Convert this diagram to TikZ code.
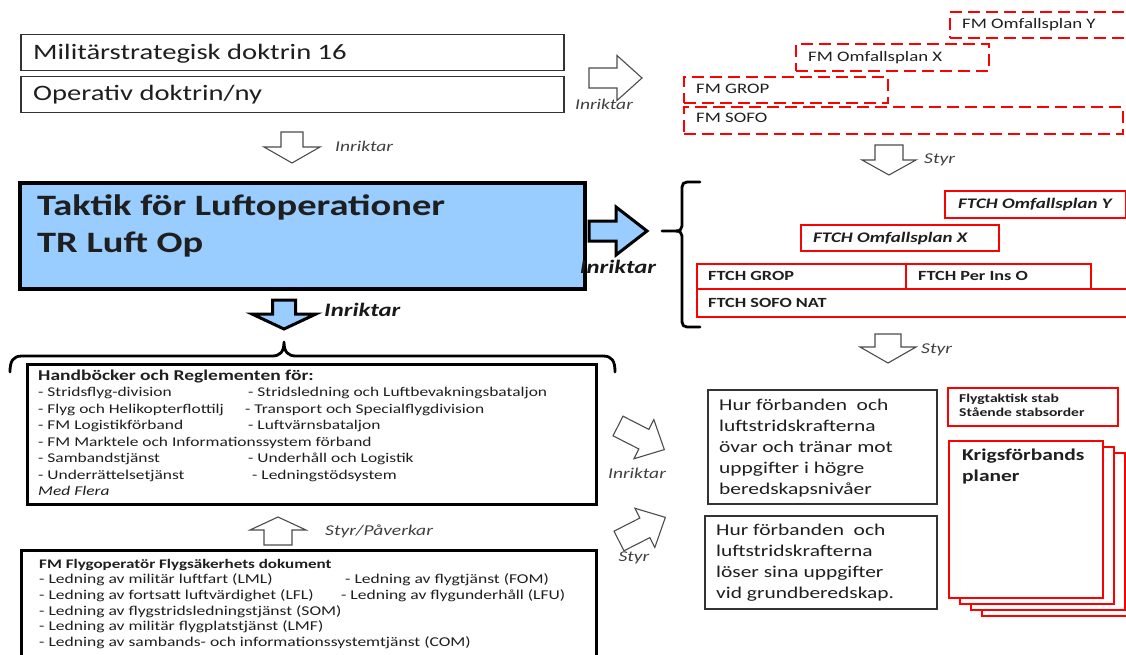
\documentclass[tikz,border=0pt]{standalone}
\usepackage{fontspec}
\setmainfont{Carlito}[FakeStretch=1.3]
\definecolor{skyfill}{RGB}{153,204,255}
\definecolor{planred}{RGB}{255,0,0}
\newcommand\fsz[2]{\fontsize{#1}{#2}\selectfont}
\tikzset{
  pics/blockarrow/.style n args={4}{code={%
    \path[pic actions] (0,-#2) -- ({#1-#4},-#2) -- ({#1-#4},-#3) -- (#1,0)
      -- ({#1-#4},#3) -- ({#1-#4},#2) -- (0,#2) -- cycle;}},
}
\begin{document}
\begin{tikzpicture}[x=1pt,y=-1pt,
  docbox/.style={draw=black!80, line width=1.5pt, fill=white, inner sep=0pt, anchor=north west},
  heavybox/.style={draw=black, line width=2.6pt, fill=white, inner sep=0pt, anchor=north west},
  tacticbox/.style={draw=black, line width=4pt, fill=skyfill, inner sep=0pt, anchor=north west},
  planbox/.style={draw=planred, line width=2.2pt, fill=white, inner sep=0pt, anchor=north west},
  draftbox/.style={draw=planred, line width=2.4pt, dash pattern=on 12pt off 6pt, inner sep=0pt, anchor=north west},
  hollowarrow/.style={draw=black!70, line width=1.1pt, fill=white, line join=miter},
  bluearrow/.style={draw=black, line width=3pt, fill=skyfill, line join=miter},
  bracket/.style={draw=black, line width=2.8pt, line cap=round, line join=round},
  note/.style={font=\itshape\fsz{15}{18}, text=black!75, inner sep=0pt},
  bignote/.style={font=\bfseries\itshape\fsz{19}{22}, text=black!90, inner sep=0pt},
  txt/.style={inner sep=0pt, text=black!88, anchor=base west},
]
\useasboundingbox (0,0) rectangle (1126,655);
\clip (0,0) rectangle (1126,655);

% ---------- doctrine boxes ----------
\node[docbox, minimum width=543pt, minimum height=36pt] (msd) at (20,34) {};
\node[txt, font=\fsz{22}{26}] (msdt) at (33,60) {Militärstrategisk doktrin 16};
\node[docbox, minimum width=543pt, minimum height=36pt] (opd) at (20,76) {};
\node[txt, font=\fsz{22}{26}] (opdt) at (33,101) {Operativ doktrin/ny};

\pic[hollowarrow] at (589,78) {blockarrow={53}{10}{22.5}{25}};
\node[note, anchor=center] (inr1) at (604,104) {Inriktar};
\pic[hollowarrow, rotate=-90] at (292,132) {blockarrow={31}{11}{28}{16}};
\node[note, anchor=west] (inr2) at (335,146) {Inriktar};

% ---------- tactics box ----------
\node[tacticbox, minimum width=565pt, minimum height=106pt] (tlo) at (18,181) {};
\node[txt, font=\bfseries\fsz{29.6}{37}] (tlo1) at (37,215) {Taktik för Luftoperationer};
\node[txt, font=\bfseries\fsz{29.6}{37}] (tlo2) at (37,252) {TR Luft Op};

\pic[bluearrow] at (589,231) {blockarrow={58}{10}{24}{31}};
\node[bignote, anchor=center] (inr3) at (618,267) {Inriktar};
\pic[bluearrow, rotate=-90] at (284,300) {blockarrow={29}{11.5}{32}{15}};
\node[bignote, anchor=west] (inr4) at (324,310) {Inriktar};

% ---------- lower brace and handbook box ----------
\draw[bracket] (10,372) .. controls (10,361) and (13,356) .. (22,356) -- (272,356)
  .. controls (280,356) and (284,352) .. (284,342)
  .. controls (284,352) and (288,356) .. (296,356) -- (603,356)
  .. controls (612,356) and (615,361) .. (615,372);

\node[heavybox, minimum width=569pt, minimum height=140pt] (hbk) at (26,363) {};
\node[txt, font=\fsz{13.4}{16.5}] (hbkt) at (38,380) {\begin{tabular}[t]{@{}l@{}}
{\bfseries\fsz{15}{16.5}Handböcker och Reglementen för:}\\
\makebox[210pt][l]{- Stridsflyg-division}- Stridsledning och Luftbevakningsbataljon\\
\makebox[207pt][l]{- Flyg och Helikopterflottilj}- Transport och Specialflygdivision\\
\makebox[210pt][l]{- FM Logistikförband}- Luftvärnsbataljon\\
- FM Marktele och Informationssystem förband\\
\makebox[210pt][l]{- Sambandstjänst}- Underhåll och Logistik\\
\makebox[214pt][l]{- Underrättelsetjänst}- Ledningstödsystem\\
\textit{Med Flera}
\end{tabular}};

\pic[hollowarrow, rotate=90] at (278,545) {blockarrow={28}{14}{28}{13}};
\node[note, anchor=west] (styr1) at (325,531) {Styr/Påverkar};

\node[heavybox, minimum width=575pt, minimum height=130pt] (fso) at (20,549) {};
\node[txt, font=\fsz{13.5}{15.7}] (fsot) at (39,568) {\begin{tabular}[t]{@{}l@{}}
{\bfseries\fsz{13.1}{15.7}FM Flygoperatör Flygsäkerhets dokument}\\
\makebox[306pt][l]{- Ledning av militär luftfart (LML)}- Ledning av flygtjänst (FOM)\\
\makebox[302pt][l]{- Ledning av fortsatt luftvärdighet (LFL)}- Ledning av flygunderhåll (LFU)\\
- Ledning av flygstridsledningstjänst (SOM)\\
- Ledning av militär flygplatstjänst (LMF)\\
- Ledning av sambands- och informationssystemtjänst (COM)
\end{tabular}};

% ---------- draft plans (dashed) ----------
\node[draftbox, minimum width=439pt, minimum height=27pt] (dsofo) at (683,106) {};
\node[draftbox, minimum width=204pt, minimum height=26pt] (dgrop) at (683,76) {};
\node[draftbox, minimum width=193pt, minimum height=27pt] (dx) at (795,43) {};
\node[draftbox, minimum width=200pt, minimum height=26pt] (dy) at (949,11) {};
\node[txt, font=\fsz{14.5}{17}] (dsofot) at (696,123) {FM SOFO};
\node[txt, font=\fsz{14.5}{17}] (dgropt) at (696,94) {FM GROP};
\node[txt, font=\fsz{14.5}{17}] (dxt) at (808,62) {FM Omfallsplan X};
\node[txt, font=\fsz{14.5}{17}] (dyt) at (962,29) {FM Omfallsplan Y};

\pic[hollowarrow, rotate=-90] at (889,145) {blockarrow={30}{14}{27}{15}};
\node[note, anchor=west] (styr2) at (924,160) {Styr};

% ---------- tactical plans ----------
\draw[bracket] (700,182) -- (687,182) .. controls (684,182) and (682,184) .. (682,187)
  -- (682,226) .. controls (682,229) and (680,231) .. (676,231) -- (662,231);
\draw[bracket] (676,231) .. controls (680,231) and (682,233) .. (682,236)
  -- (682,322) .. controls (682,325) and (684,327) .. (687,327) -- (700,327);

\node[planbox, minimum width=450pt, minimum height=28pt] (fsofo) at (696,288) {};
\node[planbox, minimum width=209pt, minimum height=25pt] (fgrop) at (696,263) {};
\node[planbox, minimum width=185pt, minimum height=25pt] (fper) at (905,263) {};
\node[planbox, minimum width=198pt, minimum height=26pt] (fx) at (800,224) {};
\node[planbox, minimum width=181pt, minimum height=27pt] (fy) at (944,190) {};
\node[txt, font=\bfseries\fsz{14}{17}] (fsofot) at (708,307) {FTCH SOFO NAT};
\node[txt, font=\bfseries\fsz{14}{17}] (fgropt) at (708,280) {FTCH GROP};
\node[txt, font=\bfseries\fsz{14}{17}] (fpert) at (918,280) {FTCH Per Ins O};
\node[txt, font=\bfseries\itshape\fsz{14.6}{17}] (fxt) at (813,242) {FTCH Omfallsplan X};
\node[txt, font=\bfseries\itshape\fsz{14.6}{17}] (fyt) at (958,208) {FTCH Omfallsplan Y};

\pic[hollowarrow, rotate=-90] at (888,334) {blockarrow={29}{13}{28}{16}};
\node[note, anchor=west] (styr3) at (921,350) {Styr};

% ---------- readiness boxes ----------
\pic[hollowarrow, rotate=-27] at (618,426) {blockarrow={52}{11}{22}{23}};
\node[note, anchor=center] (inr5) at (637,473) {Inriktar};
\pic[hollowarrow, rotate=27] at (619,541) {blockarrow={52}{11}{22}{23}};
\node[note, anchor=center] (styr4) at (634,558) {Styr};

\node[docbox, minimum width=229pt, minimum height=114pt] (hr1) at (707,389) {};
\node[txt, font=\fsz{16.5}{21}] (hr1t) at (719,410) {\begin{tabular}[t]{@{}l@{}}
Hur förbanden\ \ och\\ luftstridskrafterna\\ övar och tränar mot\\ uppgifter i högre\\ beredskapsnivåer
\end{tabular}};
\node[docbox, minimum width=232pt, minimum height=93pt] (hr2) at (704,515) {};
\node[txt, font=\fsz{16.5}{21}] (hr2t) at (716,535) {\begin{tabular}[t]{@{}l@{}}
Hur förbanden\ \ och\\ luftstridskrafterna\\ löser sina uppgifter\\ vid grundberedskap.
\end{tabular}};

% ---------- staff orders and unit plans ----------
\node[planbox, minimum width=170pt, minimum height=38pt] (fts) at (947,387) {};
\node[txt, font=\bfseries\fsz{12}{14.5}] (ftst) at (959,402) {\begin{tabular}[t]{@{}l@{}}
Flygtaktisk stab\\ Stående stabsorder
\end{tabular}};

\node[planbox, minimum width=154pt, minimum height=157pt] (kp4) at (981,458) {};
\node[planbox, minimum width=154pt, minimum height=157pt] (kp3) at (970,452) {};
\node[planbox, minimum width=154pt, minimum height=157pt] (kp2) at (959,446) {};
\node[planbox, minimum width=154pt, minimum height=157pt] (kp1) at (948,440) {};
\node[txt, font=\bfseries\fsz{16.5}{21}] (kp1t) at (962,460) {\begin{tabular}[t]{@{}l@{}}
Krigsförbands\\ planer
\end{tabular}};
\end{tikzpicture}
\end{document}
